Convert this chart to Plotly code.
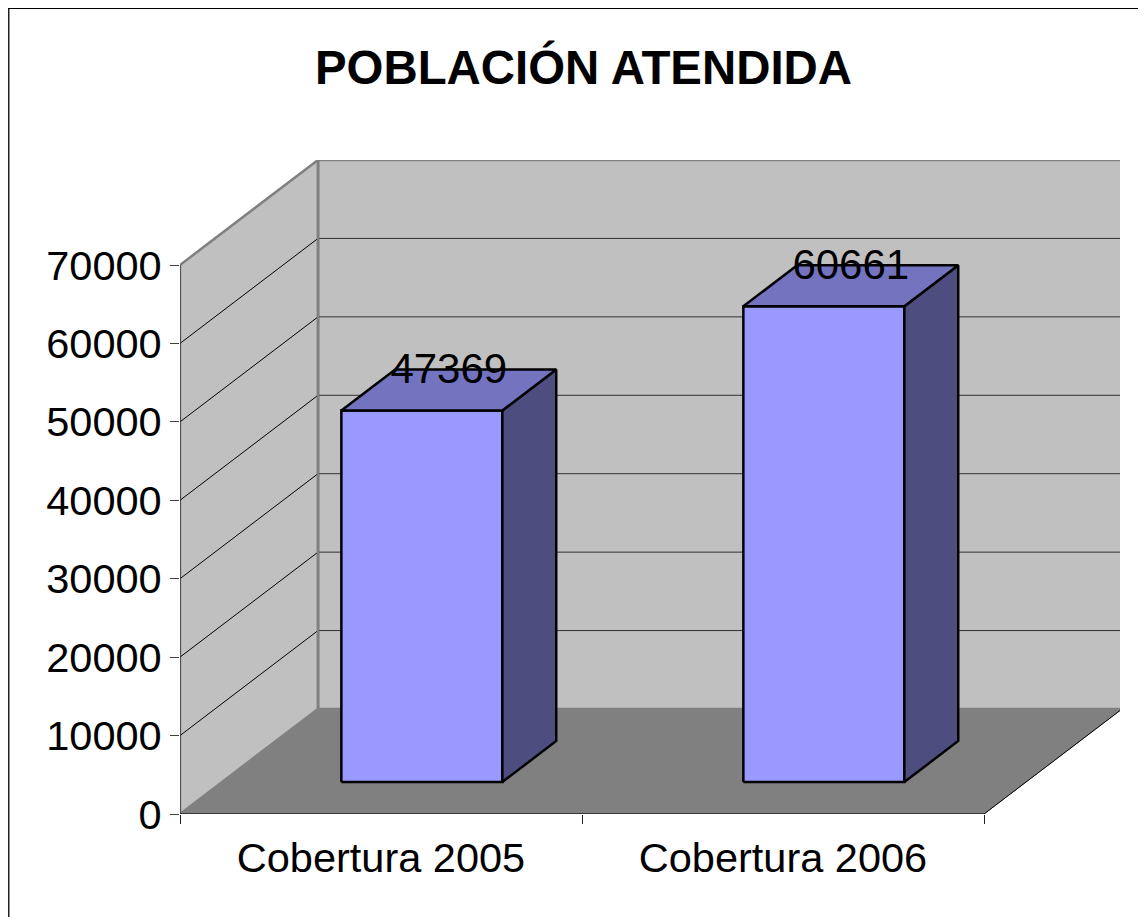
import plotly.graph_objects as go

# ---- data ----
categories = ["Cobertura 2005", "Cobertura 2006"]
values = [47369, 60661]
y_ticks = [0, 10000, 20000, 30000, 40000, 50000, 60000, 70000]
title_text = "POBLACIÓN ATENDIDA"

# the page has an 8 px body margin, so the figure starts at (8, 8) of the window
PAGE = 8
W, H = 1146 - PAGE, 917 - PAGE
ML, MR, MT, MB = 180 - PAGE, 26, 160 - PAGE, 103   # plot box = front-left-bottom to back-top-right
X0, X2 = 180.0, 984.0                # window pixels of category 0 and 2 on the front plane
Y0, Y7 = 814.0, 265.0                # window pixels of value 0 and 70000 on the front plane
px_per_cat = (X2 - X0) / 2
px_per_val = (Y0 - Y7) / 70000
depth_x = 138 / px_per_cat           # oblique depth in category units
depth_y = 105 / px_per_val           # oblique depth in value units
ymax = 70000

bar_w = 161 / px_per_cat
bar_d0 = 32 / 105                    # front face of the bars in depth fraction
bar_d1 = 73 / 105                    # back face
bar_nudge = -1.2 / px_per_cat
label_drop = 3 / px_per_val


def proj(x, y, d):
    return x + d * depth_x, y + d * depth_y


def poly(points, fill, line_color, line_w):
    xs, ys = zip(*[proj(*p) for p in points + points[:1]])
    return go.Scatter(x=xs, y=ys, mode="lines", fill="toself", fillcolor=fill,
                      line=dict(color=line_color, width=line_w), hoverinfo="skip",
                      showlegend=False, xaxis="x", yaxis="y", cliponaxis=False)


def seg(a, b, color, w):
    xs, ys = zip(proj(*a), proj(*b))
    return go.Scatter(x=xs, y=ys, mode="lines", line=dict(color=color, width=w),
                      hoverinfo="skip", showlegend=False, xaxis="x", yaxis="y", cliponaxis=False)


fig = go.Figure()
WALL = "#C0C0C0"
FLOOR = "#808080"
EDGE = "#808080"
# walls and floor
fig.add_trace(poly([(0, 0, 1), (2, 0, 1), (2, ymax, 1), (0, ymax, 1)], WALL, EDGE, 2.5))
fig.add_trace(poly([(0, 0, 0), (0, 0, 1), (0, ymax, 1), (0, ymax, 0)], WALL, EDGE, 2.5))
# grid lines
for v in y_ticks[1:-1]:
    fig.add_trace(seg((0, v, 0), (0, v, 1), "#000000", 1))
    fig.add_trace(seg((0, v, 1), (2, v, 1), "#303030", 1))
fig.add_trace(seg((0, 0, 1), (0, ymax, 1), EDGE, 2.5))
fig.add_trace(poly([(0, 0, 0), (2, 0, 0), (2, 0, 1), (0, 0, 1)], FLOOR, FLOOR, 1))
# front edges
fig.add_trace(seg((0, 0, 0), (0, ymax, 0), "#404040", 1.5))
fig.add_trace(seg((0, 0, 0), (2, 0, 0), "#202020", 1.5))
fig.add_trace(seg((2, 0, 0), (2, 0, 1), "#000000", 1))

# bars
for i, v in enumerate(values):
    cx = i + 0.5 + bar_nudge
    x0 = cx - bar_w / 2
    x1 = x0 + bar_w
    fig.add_trace(poly([(x0, 0, bar_d0), (x1, 0, bar_d0), (x1, v, bar_d0), (x0, v, bar_d0)], "#9999FF", "#000000", 2.5))
    fig.add_trace(poly([(x1, 0, bar_d0), (x1, 0, bar_d1), (x1, v, bar_d1), (x1, v, bar_d0)], "#4D4D80", "#000000", 2.5))
    fig.add_trace(poly([(x0, v, bar_d0), (x1, v, bar_d0), (x1, v, bar_d1), (x0, v, bar_d1)], "#7373BF", "#000000", 2.5))
    lx = proj(cx, v, (bar_d0 + bar_d1) / 2)[0]
    ly = proj(cx, v, bar_d1)[1] - label_drop
    fig.add_trace(go.Scatter(x=[lx], y=[ly], mode="text", text=[str(v)], textposition="middle center",
                             textfont=dict(family="Liberation Sans", size=42, color="#000000"),
                             hoverinfo="skip", showlegend=False, cliponaxis=False))

x_range = [0, (W - ML - MR) / px_per_cat]
y_range = [0, (H - MT - MB) / px_per_val]
font = dict(family="Liberation Sans", size=41.5, color="#000000")
px = W - ML - MR
py = H - MT - MB
fig.update_layout(
    width=W, height=H, autosize=False,
    margin=dict(l=ML, r=MR, t=MT, b=MB, pad=0),
    paper_bgcolor="#FFFFFF", plot_bgcolor="rgba(0,0,0,0)",
    showlegend=False,
    title=dict(text="<b>%s</b>" % title_text, x=(583.5 - PAGE) / W, xanchor="center", y=1 - 59.5 / H, yanchor="middle",
               font=dict(family="Liberation Sans", size=47.4, color="#000000")),
    xaxis=dict(range=x_range, tickvals=[0, 1, 2], ticktext=["", "", ""], ticks="outside", ticklen=9,
               tickcolor="#202020", tickwidth=1, showgrid=False, zeroline=False, showline=False, fixedrange=True),
    xaxis2=dict(range=x_range, overlaying="x", side="bottom", anchor="y", tickvals=[0.5, 1.5], ticktext=categories,
                ticks="", ticklabelstandoff=15, tickfont=font, showgrid=False, zeroline=False, showline=False, fixedrange=True),
    yaxis=dict(range=y_range, tickvals=y_ticks, ticks="outside", ticklen=9, tickcolor="#404040", tickwidth=1,
               tickfont=font, tickformat="d", showgrid=False, zeroline=False, showline=False, fixedrange=True),
    shapes=[
        dict(type="line", xref="paper", yref="paper", x0=(0.75 - ML) / px, x1=(0.75 - ML) / px,
             y0=-MB / py, y1=(H - MB) / py, line=dict(color="#202020", width=1.5)),
        dict(type="line", xref="paper", yref="paper", x0=(0 - ML) / px, x1=(W - ML) / px,
             y0=(H - MB - 0.5) / py, y1=(H - MB - 0.5) / py, line=dict(color="#000000", width=1)),
    ],
)
# invisible trace that makes the label axis appear
fig.add_trace(go.Scatter(x=[0.5, 1.5], y=[0, 0], xaxis="x2", yaxis="y", mode="markers",
                         marker=dict(opacity=0), hoverinfo="skip", showlegend=False))
fig.write_html("out.html")
